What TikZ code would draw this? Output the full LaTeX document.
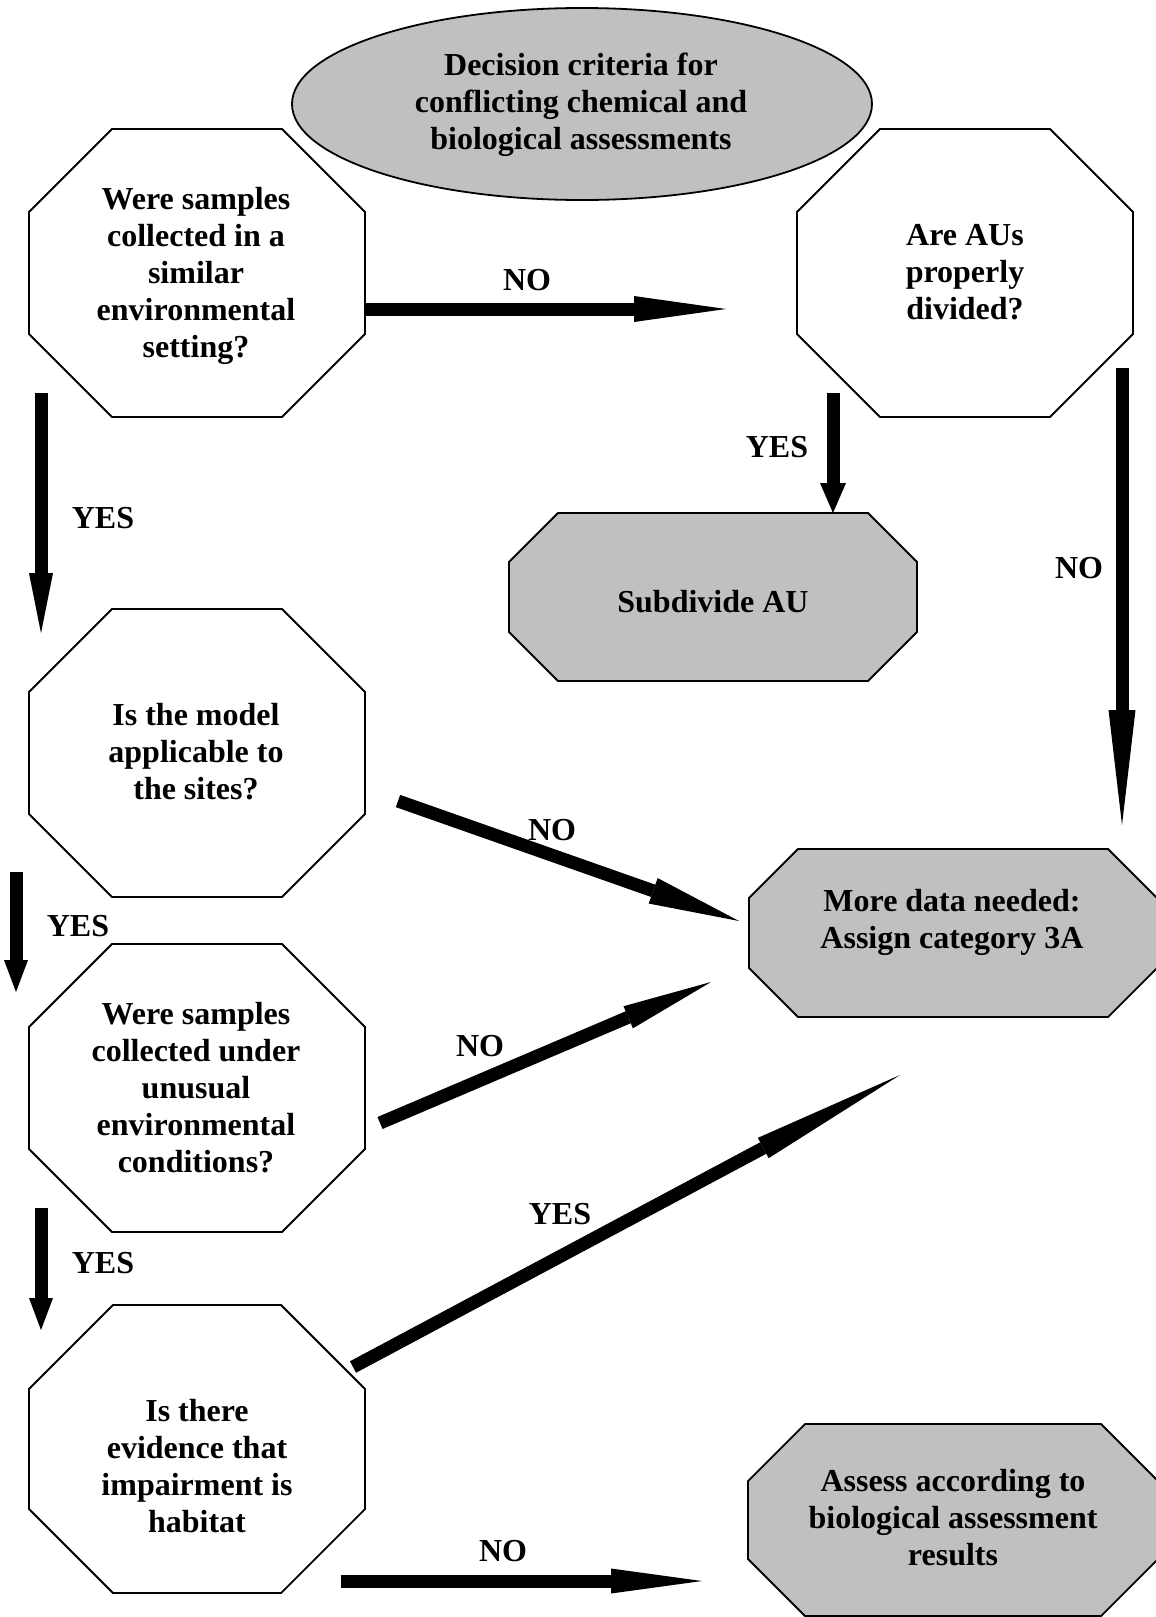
\documentclass[tikz,border=0pt]{standalone}
\usepackage{fontspec}
\setmainfont{Liberation Serif}
\usetikzlibrary{arrows.meta,shapes.geometric}
\definecolor{boxgray}{HTML}{C0C0C0}
\newcommand{\octpath}[6]{%
  \draw[#6] (#1-#3+#5,#2-#4) -- (#1+#3-#5,#2-#4) -- (#1+#3,#2-#4+#5) -- (#1+#3,#2+#4-#5)
    -- (#1+#3-#5,#2+#4) -- (#1-#3+#5,#2+#4) -- (#1-#3,#2+#4-#5) -- (#1-#3,#2-#4+#5) -- cycle;}
\tikzset{
  txt/.style={font=\bfseries\fontsize{16}{18.5}\selectfont, align=center, inner sep=0pt},
  lbl/.style={font=\bfseries\fontsize{16}{18.5}\selectfont, inner sep=0pt},
  qline/.style={draw=black, line width=0.9pt, fill=white},
  gline/.style={draw=black, line width=0.9pt, fill=boxgray},
  fat/.style 2 args={line width=6.5pt, -{Triangle[length=#1pt,width=#2pt,line width=0pt]}},
}
\begin{document}
\begin{tikzpicture}[x=0.5pt,y=-0.5pt]
\useasboundingbox (0,0) rectangle (1156,1617);
\fill[white] (0,0) rectangle (1156,1617);

% title ellipse
\node[ellipse, draw=black, line width=0.9pt, fill=boxgray, minimum width=290pt, minimum height=96pt, inner sep=0pt] (titleshape) at (582,104) {};
\node[txt] (title) at (581,105) {Decision criteria for\\conflicting chemical and\\biological assessments};

% shapes
\octpath{197}{273}{168}{144}{83}{qline}
\octpath{965}{273}{168}{144}{83}{qline}
\octpath{713}{597}{204}{84}{49}{gline}
\octpath{197}{753}{168}{144}{83}{qline}
\octpath{953}{933}{204}{84}{49}{gline}
\octpath{197}{1088}{168}{144}{83}{qline}
\octpath{197}{1449}{168}{144}{84}{qline}
\octpath{953}{1520}{205}{96}{57}{gline}

% texts
\node[txt] (q1) at (196,276) {Were samples\\collected in a\\similar\\environmental\\setting?};
\node[txt] (q2) at (965,272) {Are AUs\\properly\\divided?};
\node[txt] (sub) at (713,602) {Subdivide AU};
\node[txt] (q3) at (196,752) {Is the model\\applicable to\\the sites?};
\node[txt] (more) at (952,922) {More data needed:\\Assign category 3A};
\node[txt] (q4) at (196,1088) {Were samples\\collected under\\unusual\\environmental\\conditions?};
\node[txt] (q5) at (197,1466) {Is there\\evidence that\\impairment is\\habitat};
\node[txt] (assess) at (953,1518) {Assess according to\\biological assessment\\results};

% arrow end points
\coordinate (a1s) at (365,309);  \coordinate (a1e) at (726,309);
\coordinate (a2s) at (41,393);   \coordinate (a2e) at (41,633);
\coordinate (a3s) at (833,393);  \coordinate (a3e) at (833,513);
\coordinate (a4s) at (1122,368); \coordinate (a4e) at (1122,825);
\coordinate (a5s) at (398,801);  \coordinate (a5e) at (739,921);
\coordinate (a6s) at (380,1123); \coordinate (a6e) at (711,982);
\coordinate (a7s) at (353,1367); \coordinate (a7e) at (900,1075);
\coordinate (a8s) at (16,872);   \coordinate (a8e) at (16,992);
\coordinate (a9s) at (41,1208);  \coordinate (a9e) at (41,1330);
\coordinate (a10s) at (341,1581); \coordinate (a10e) at (702,1581);

\draw[fat={46}{13}] (a1s) -- (a1e);
\draw[fat={30}{12}] (a2s) -- (a2e);
\draw[fat={15}{13}] (a3s) -- (a3e);
\draw[fat={57.5}{13.5}] (a4s) -- (a4e);
\draw[fat={45.5}{13.5}] (a5s) -- (a5e);
\draw[fat={45}{12}] (a6s) -- (a6e);
\draw[fat={77.5}{11.5}] (a7s) -- (a7e);
\draw[fat={16}{12}] (a8s) -- (a8e);
\draw[fat={16}{12}] (a9s) -- (a9e);
\draw[fat={45.5}{12.5}] (a10s) -- (a10e);

% labels
\node[lbl] (l1) at (527,280) {NO};
\node[lbl] (l2) at (103,518) {YES};
\node[lbl] (l3) at (777,447) {YES};
\node[lbl] (l4) at (1079,568) {NO};
\node[lbl] (l5) at (552,830) {NO};
\node[lbl] (l6) at (78,926) {YES};
\node[lbl] (l7) at (480,1046) {NO};
\node[lbl] (l8) at (103,1263) {YES};
\node[lbl] (l9) at (560,1214) {YES};
\node[lbl] (l10) at (503,1551) {NO};
\end{tikzpicture}
\end{document}
